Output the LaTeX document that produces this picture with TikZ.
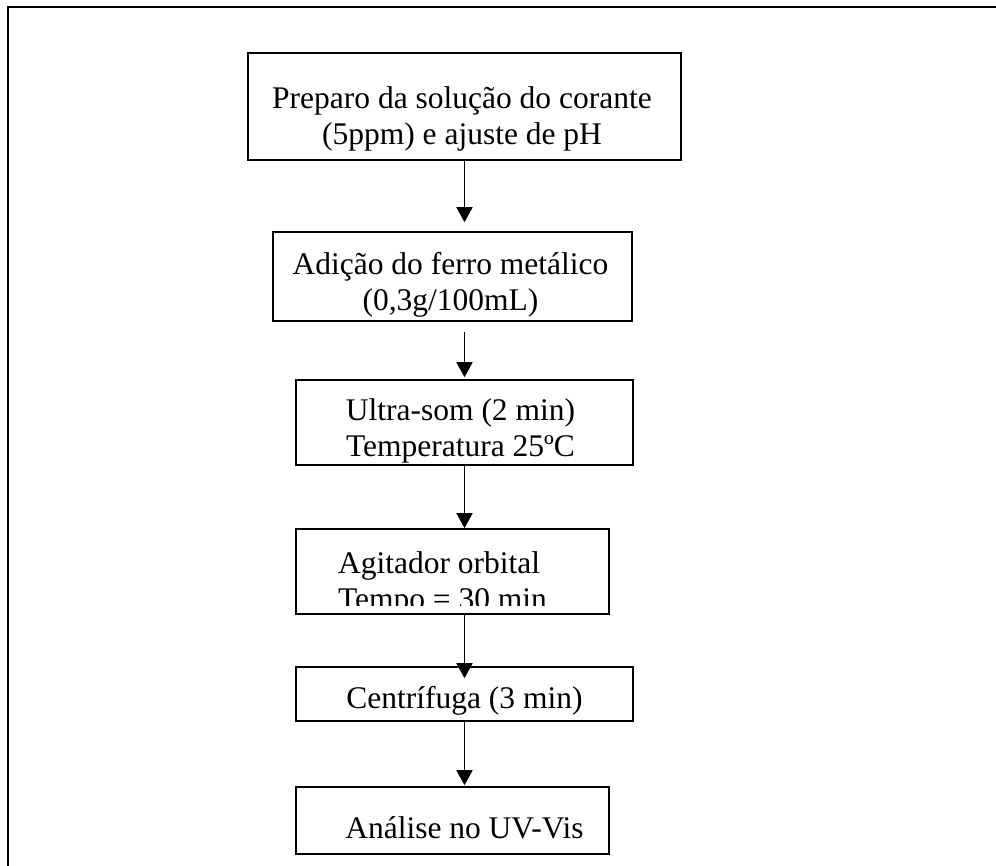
\documentclass[tikz,border=0pt]{standalone}
\usepackage{fontspec}
\setmainfont{Liberation Serif}
\usetikzlibrary{arrows.meta}
\newcommand{\steptext}[4][c]{\raisebox{#3}[0pt][0pt]{\makebox[0pt]{\hspace*{#2}\hspace*{#2}\begin{tabular}{@{}#1@{}}#4\end{tabular}}}}
\begin{document}
\begin{tikzpicture}[x=1pt,y=-1pt]
\tikzstyle{stepbox} = [rectangle, draw=black, line width=1.6pt, inner sep=0pt, font=\fontsize{31.5}{36}\selectfont]
\tikzstyle{steplabel} = [inner sep=0pt, font=\fontsize{31.5}{36}\selectfont]
\tikzstyle{flow} = [line width=1.8pt, -{Triangle[width=16pt,length=15pt]}]
\useasboundingbox (0,0) rectangle (996,865);
\draw[line width=2.4pt] (1000,7) -- (8,7) -- (8,870);
\node[stepbox, minimum width=433pt, minimum height=107pt] at (464.5,106.5) (b1){\steptext{-2.5pt}{-19.2pt}{Preparo da solução do corante\\(5ppm) e ajuste de pH}};
\node[stepbox, minimum width=359pt, minimum height=89pt] at (452.5,276.5) (b2){\steptext{-2pt}{-15.2pt}{Adição do ferro metálico\\(0,3g/100mL)}};
\node[stepbox, minimum width=337pt, minimum height=85pt] at (464.5,422.5) (b3){\steptext{-4pt}{-15.2pt}{Ultra-som (2 min)\\Temperatura 25ºC}};
\node[stepbox, minimum width=313pt, minimum height=85pt, path picture={
  \clip (path picture bounding box.north west) rectangle ([yshift=9pt]path picture bounding box.south east);
  \node[steplabel] at (path picture bounding box.center) (t4){\steptext[l]{-10pt}{-19.2pt}{Agitador orbital\\Tempo = 30 min}};
}] at (452.5,571.5) (b4){};
\node[stepbox, minimum width=337pt, minimum height=54pt] at (464.5,694) (b5){\steptext{0pt}{-13.7pt}{Centrífuga (3 min)}};
\node[stepbox, minimum width=313pt, minimum height=67pt] at (452.5,820.5) (b6){\steptext{12pt}{-17.2pt}{Análise no UV-Vis}};
\draw[flow, shorten >=9pt] (b1.south) -- (b1.south |- b2.north);
\draw[flow, shorten <=10pt, shorten >=2pt] (b3.north |- b2.south) -- (b3.north);
\draw[flow] (b3.south) -- (b3.south |- b4.north);
\draw[flow, shorten >=-12pt] (b5.north |- b4.south) -- (b5.north);
\draw[flow, shorten >=1pt] (b5.south) -- (b5.south |- b6.north);
\end{tikzpicture}
\end{document}
